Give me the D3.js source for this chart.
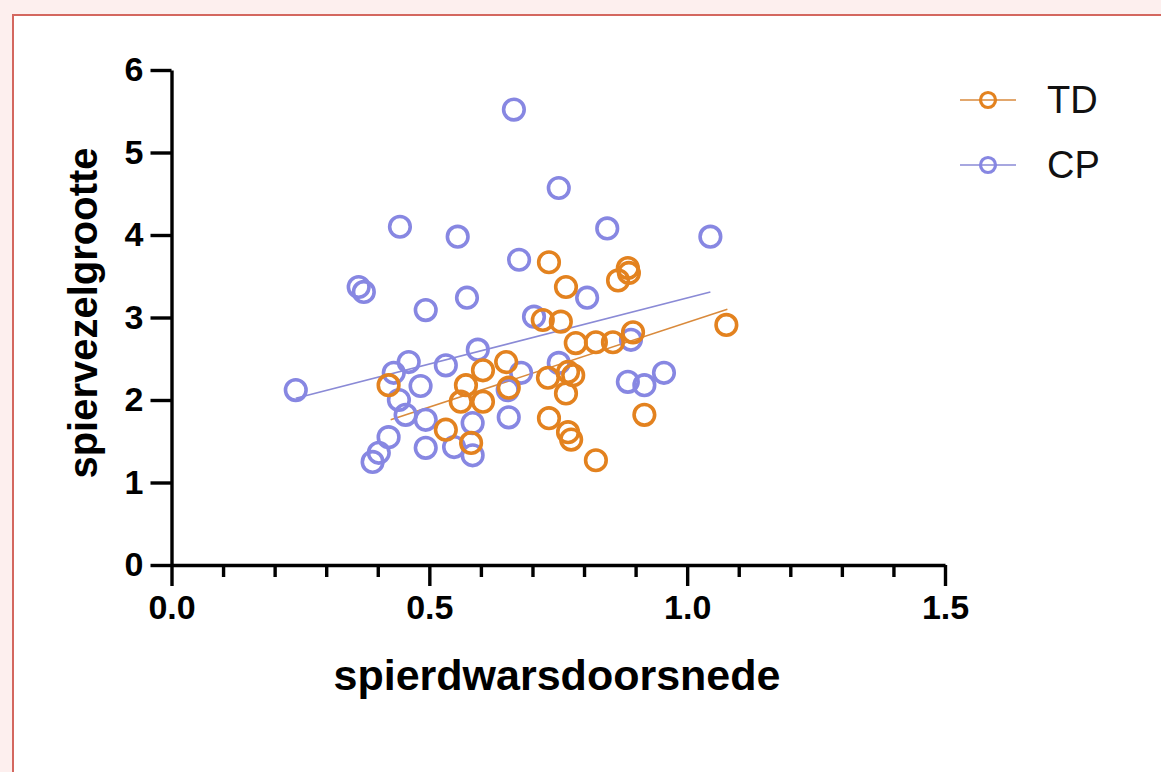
<!DOCTYPE html>
<html><head><meta charset="utf-8">
<script src="https://cdn.jsdelivr.net/npm/d3@7"></script>
<style>body{margin:0;background:#fdefee;} svg{display:block}</style>
</head><body><svg id="c" width="1161" height="772"></svg>
<script>
const seriesNames = ["TD", "CP"];
const seriesColors = ["#e3821f", "#8787e2"];
const lineColors = ["#d98a3c", "#8a8ad6"];
const tdX = [0.732,0.765,0.866,0.885,0.887,1.076,0.720,0.755,0.784,0.823,0.856,0.895,0.649,0.654,0.730,0.769,0.779,0.765,0.917,0.732,0.769,0.775,0.823,0.421,0.604,0.571,0.561,0.604,0.532,0.581];
const tdY = [3.67,3.37,3.45,3.60,3.54,2.91,2.97,2.95,2.69,2.70,2.70,2.82,2.46,2.15,2.27,2.34,2.30,2.08,1.82,1.78,1.61,1.52,1.27,2.18,2.36,2.18,1.98,1.98,1.64,1.48];
const cpX = [0.664,0.751,0.443,0.555,0.845,1.045,0.363,0.373,0.674,0.573,0.493,0.806,0.703,0.241,0.594,0.532,0.460,0.431,0.483,0.441,0.454,0.493,0.652,0.678,0.654,0.584,0.548,0.584,0.493,0.421,0.402,0.390,0.891,0.751,0.885,0.917,0.955];
const cpY = [5.52,4.57,4.10,3.98,4.08,3.98,3.37,3.31,3.70,3.24,3.09,3.24,3.01,2.12,2.61,2.42,2.46,2.33,2.17,2.00,1.82,1.76,2.12,2.33,1.79,1.72,1.43,1.33,1.42,1.55,1.36,1.25,2.73,2.45,2.22,2.18,2.33];
const tdFitX = [0.425, 1.078], tdFitY = [1.76, 3.10];
const cpFitX = [0.241, 1.045], cpFitY = [2.02, 3.31];
const xMajorTicks = [0, 0.5, 1.0, 1.5];
const xTickLabels = ["0.0", "0.5", "1.0", "1.5"];
const xMinorTicks = [0.1,0.2,0.3,0.4,0.6,0.7,0.8,0.9,1.1,1.2,1.3,1.4];
const yTicks = [0, 1, 2, 3, 4, 5, 6];
const xTitle = "spierdwarsdoorsnede";
const yTitle = "spiervezelgrootte";

const svg = d3.select("#c");
const FONT = "'Liberation Sans', Arial, sans-serif";
// frame
svg.append("rect").attr("x", 13).attr("y", 15).attr("width", 1200).attr("height", 800)
  .attr("fill", "#ffffff").attr("stroke", "#d4675f").attr("stroke-width", 2);

const x = d3.scaleLinear().domain([0, 1.5]).range([171.5, 945]);
const y = d3.scaleLinear().domain([0, 6]).range([565, 70]);

// axes
const yAxis = d3.axisLeft(y).tickValues(yTicks).tickSize(21).tickSizeOuter(0).tickPadding(7).tickFormat(d3.format("d"));
const gy = svg.append("g").attr("transform", "translate(171.5,0)").call(yAxis);
const xAxis = d3.axisBottom(x).tickValues(xMajorTicks).tickSize(21).tickSizeOuter(0).tickPadding(9)
  .tickFormat((d, i) => xTickLabels[i]);
const gx = svg.append("g").attr("transform", "translate(0,565)").call(xAxis);
const xMinor = d3.axisBottom(x).tickValues(xMinorTicks).tickSize(12).tickSizeOuter(0).tickFormat("");
const gxm = svg.append("g").attr("transform", "translate(0,565)").call(xMinor);
gxm.select(".domain").remove();
[gy, gx, gxm].forEach(g => {
  g.selectAll(".domain").attr("stroke", "#000").attr("stroke-width", 3.4);
  g.selectAll(".tick line").attr("stroke", "#000").attr("stroke-width", 3.4);
  g.selectAll(".tick text").attr("fill", "#000").style("font-family", FONT)
    .style("font-size", "34px").style("font-weight", "bold");
});

// titles
svg.append("text").attr("x", 557).attr("y", 690).attr("text-anchor", "middle")
  .style("font-family", FONT).style("font-size", "43px").style("font-weight", "bold").text(xTitle);
svg.append("text").attr("transform", "translate(97,313) rotate(-90)").attr("text-anchor", "middle")
  .style("font-family", FONT).style("font-size", "40px").style("font-weight", "bold").text(yTitle);

// fit lines
const line = d3.line().x(d => x(d[0])).y(d => y(d[1]));
const fits = [d3.zip(tdFitX, tdFitY), d3.zip(cpFitX, cpFitY)];
fits.forEach((f, i) => {
  svg.append("path").attr("d", line(f)).attr("fill", "none").attr("stroke", lineColors[i]).attr("stroke-width", 1.6);
});

// points: CP first, TD on top
const sets = [d3.zip(tdX, tdY), d3.zip(cpX, cpY)];
[1, 0].forEach(i => {
  svg.append("g").selectAll("circle").data(sets[i]).join("circle")
    .attr("cx", d => x(d[0])).attr("cy", d => y(d[1])).attr("r", 10.3)
    .attr("fill", "none").attr("stroke", seriesColors[i]).attr("stroke-width", 3.6);
});

// legend
const legY = [100, 165];
seriesNames.forEach((n, i) => {
  const g = svg.append("g");
  g.append("line").attr("x1", 960).attr("x2", 1016).attr("y1", legY[i]).attr("y2", legY[i])
    .attr("stroke", lineColors[i]).attr("stroke-width", 1.6);
  g.append("circle").attr("cx", 988).attr("cy", legY[i]).attr("r", 7.5)
    .attr("fill", "none").attr("stroke", seriesColors[i]).attr("stroke-width", 3.2);
  g.append("text").attr("x", 1047).attr("y", legY[i] + 13).style("font-family", FONT)
    .style("font-size", "38px").attr("fill", "#111").text(n);
});
</script></body></html>
